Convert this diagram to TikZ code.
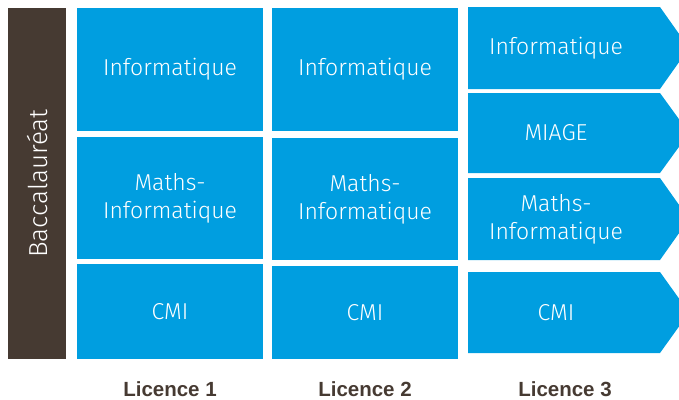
\documentclass[tikz,border=0pt]{standalone}
\usepackage{fontspec}
\setmainfont{Fira Sans Light}
\newfontfamily\anneefont{Liberation Sans}
\definecolor{bleu}{HTML}{009EE0}
\definecolor{brun}{HTML}{463A32}

\begin{document}
\begin{tikzpicture}[x=1pt,y=-1pt,
    bloc/.style={fill=bleu,text=white,align=center,inner sep=0pt,
      font=\fontsize{23}{28}\selectfont},
    annee/.style={text=brun,anchor=base,inner sep=0pt,
      font=\anneefont\bfseries\fontsize{20.5}{24}\selectfont}]
        \useasboundingbox (0,0) rectangle (679,399);
        \clip (0,0) rectangle (679,399);

        % baccalaureat
        \node[fill=brun,minimum width=58pt,minimum height=351pt,inner sep=0pt] (bac) at (37,183.5) {};
        \node[rotate=90,text=white,font=\fontsize{26}{30}\selectfont] (bactxt) at (bac.center) {Baccalauréat};

        % licence 1
        \node[bloc,minimum width=186pt,minimum height=123pt] (infoA) at (170,69.5)  {Informatique};
        \node[bloc,minimum width=186pt,minimum height=122pt] (miA)   at (170,198)   {Maths-\\Informatique};
        \node[bloc,minimum width=186pt,minimum height=95pt]  (cmiA)  at (170,311.5) {CMI};

        % licence 2
        \node[bloc,minimum width=186pt,minimum height=123pt] (infoB) at (365,69.5)  {Informatique};
        \node[bloc,minimum width=186pt,minimum height=122pt] (miB)   at (365,199)   {Maths-\\Informatique};
        \node[bloc,minimum width=186pt,minimum height=93pt]  (cmiB)  at (365,312.5) {CMI};

        % licence 3
        \foreach \t/\b/\txt/\nom in {7/89/Informatique/infoC,93/173/MIAGE/miageC,
                                     178/260/{Maths-\\Informatique}/miC,272/353/CMI/cmiC}{
            \fill[bleu] (468,\t) -- (660,\t) -- (689,{(\t+\b)/2}) -- (660,\b) -- (468,\b) -- cycle;
            \node[bloc,fill=none] (\nom) at (556,{(\t+\b)/2}) {\txt};
        }

        \node[annee] (lA) at (170,396) {Licence 1};
        \node[annee] (lB) at (365,396) {Licence 2};
        \node[annee] (lC) at (565,396) {Licence 3};
    \end{tikzpicture}
\end{document}
